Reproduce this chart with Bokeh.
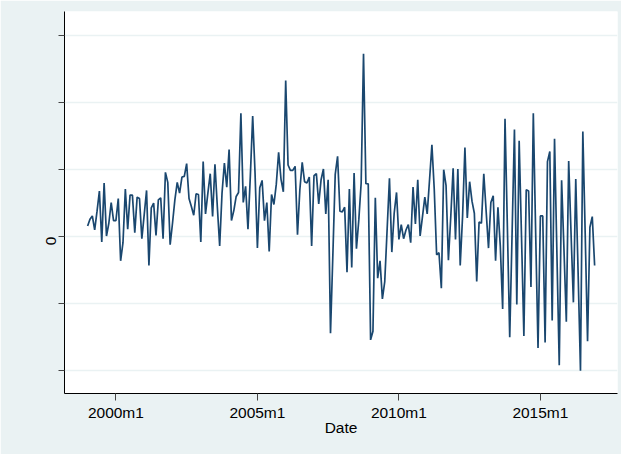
import math
from bokeh.plotting import figure
from bokeh.models import Range1d, FixedTicker, ColumnDataSource
from bokeh.embed import file_html
from bokeh.resources import INLINE

# Monthly series, 1999m1 .. 2016m12 (in y-tick units)
v1999 = [0.16, 0.26, 0.31, 0.10, 0.38, 0.68, -0.08, 0.80, 0.01, 0.20, 0.51, 0.24]
v2000 = [0.24, 0.57, -0.36, -0.09, 0.71, 0.11, 0.62, 0.62, 0.06, 0.59, 0.57, -0.03]
v2001 = [0.33, 0.69, -0.43, 0.43, 0.50, 0.02, 0.55, 0.58, -0.03, 0.96, 0.81, -0.12]
v2002 = [0.20, 0.55, 0.81, 0.65, 0.89, 0.90, 1.09, 0.57, 0.45, 0.32, 0.64, 0.63]
v2003 = [-0.08, 1.12, 0.34, 0.65, 0.94, 0.30, 1.08, 0.45, -0.14, 0.65, 1.10, 0.74]
v2004 = [1.30, 0.24, 0.39, 0.60, 0.66, 1.84, 0.51, 0.75, 0.11, 0.90, 1.80, 0.95]
v2005 = [-0.17, 0.73, 0.84, 0.24, 0.51, -0.22, 0.63, 0.48, 0.78, 1.26, 0.86, 0.67]
v2006 = [2.33, 1.07, 0.99, 0.99, 1.05, 0.03, 0.70, 1.11, 0.82, 0.80, 0.89, -0.14]
v2007 = [0.91, 0.94, 0.49, 0.85, 1.01, 0.34, 0.85, -1.44, -0.27, 0.93, 1.20, 0.38]
v2008 = [0.37, 0.44, -0.53, 0.71, -0.46, 0.95, -0.18, 0.25, 0.80, 2.73, 0.79, 0.79]
v2009 = [-1.54, -1.41, 0.58, -0.62, -0.36, -0.93, -0.67, 0.10, 0.87, -0.23, 0.35, 0.66]
v2010 = [-0.04, 0.18, -0.03, 0.10, 0.18, -0.09, 0.74, 0.19, 0.85, 0.01, 0.30, 0.59]
v2011 = [0.34, 0.85, 1.37, 0.70, -0.27, -0.24, -0.77, 1.00, 0.76, -0.35, 0.30, 1.02]
v2012 = [-0.04, 1.01, -0.43, 0.30, 1.33, 0.28, 0.82, 0.53, 0.35, -0.67, 0.22, 0.20]
v2013 = [0.94, 0.38, -0.17, 0.51, 0.61, -0.36, 0.44, -0.14, -1.08, 1.76, 0.15, -1.50]
v2014 = [0.05, 1.60, -1.01, 1.43, 0.00, -1.48, 0.70, 0.68, -0.75, 1.84, 0.05, -1.66]
v2015 = [0.31, 0.31, -1.58, 1.12, 1.27, -1.25, 1.46, -0.24, -1.92, 0.84, -0.19, -1.27]
v2016 = [1.13, 0.05, -0.98, 0.86, -0.54, -2.00, 1.57, 0.05, -1.56, 0.14, 0.30, -0.43]

values = (v1999 + v2000 + v2001 + v2002 + v2003 + v2004 + v2005 + v2006 + v2007
          + v2008 + v2009 + v2010 + v2011 + v2012 + v2013 + v2014 + v2015 + v2016)

start_month = 468  # 1999m1 as Stata %tm (months since 1960m1)
months = [start_month + i for i in range(len(values))]

x_ticks = [480, 540, 600, 660]
x_tick_labels = ["2000m1", "2005m1", "2010m1", "2015m1"]
y_ticks = [-2, -1, 0, 1, 2, 3]
y_tick_labels = ["", "", "0", "", "", ""]

BG = "#eaf2f3"
LINE = "#1a476f"
FONT = "Liberation Sans"

p = figure(width=621, height=454, output_backend="svg", toolbar_location=None,
           x_range=Range1d(458.2, 692.7), y_range=Range1d(-2.34, 3.36),
           min_border_left=64, min_border_right=4, min_border_top=11,
           min_border_bottom=61)
p.border_fill_color = BG
p.background_fill_color = "white"
p.outline_line_color = None

src = ColumnDataSource(dict(month=months, value=values))
p.line("month", "value", source=src, line_color=LINE, line_width=1.7)

# x axis
p.xaxis.ticker = FixedTicker(ticks=x_ticks)
p.xaxis.major_label_overrides = {t: l for t, l in zip(x_ticks, x_tick_labels)}
p.xaxis.axis_label = "Date"
p.xaxis.axis_label_text_font = FONT
p.xaxis.axis_label_text_font_style = "normal"
p.xaxis.axis_label_text_font_size = "15.5px"
p.xaxis.axis_label_text_color = "black"
p.xaxis.axis_label_standoff = -5
p.xaxis.major_label_text_font = FONT
p.xaxis.major_label_text_font_size = "15.5px"
p.xaxis.major_label_text_color = "black"
p.xaxis.major_label_standoff = 3
p.xaxis.major_tick_out = 7
p.xaxis.major_tick_in = 0
p.xaxis.minor_tick_out = 0
p.xaxis.minor_tick_in = 0
p.xaxis.axis_line_color = "black"
p.xaxis.major_tick_line_color = "#444444"

# y axis
p.yaxis.ticker = FixedTicker(ticks=y_ticks)
p.yaxis.major_label_overrides = {t: l for t, l in zip(y_ticks, y_tick_labels)}
p.yaxis.major_label_orientation = math.pi / 2
p.yaxis.major_label_text_font = FONT
p.yaxis.major_label_text_font_size = "15.5px"
p.yaxis.major_label_text_color = "black"
p.yaxis.major_label_standoff = 7
p.yaxis.major_tick_out = 6
p.yaxis.major_tick_in = 0
p.yaxis.minor_tick_out = 0
p.yaxis.minor_tick_in = 0
p.yaxis.axis_line_color = "black"
p.yaxis.major_tick_line_color = "#444444"

# grid
p.xgrid.visible = False
p.ygrid.ticker = FixedTicker(ticks=y_ticks)
p.ygrid.grid_line_color = BG
p.ygrid.grid_line_width = 1.5

open("out.html", "w").write(file_html(p, INLINE))
